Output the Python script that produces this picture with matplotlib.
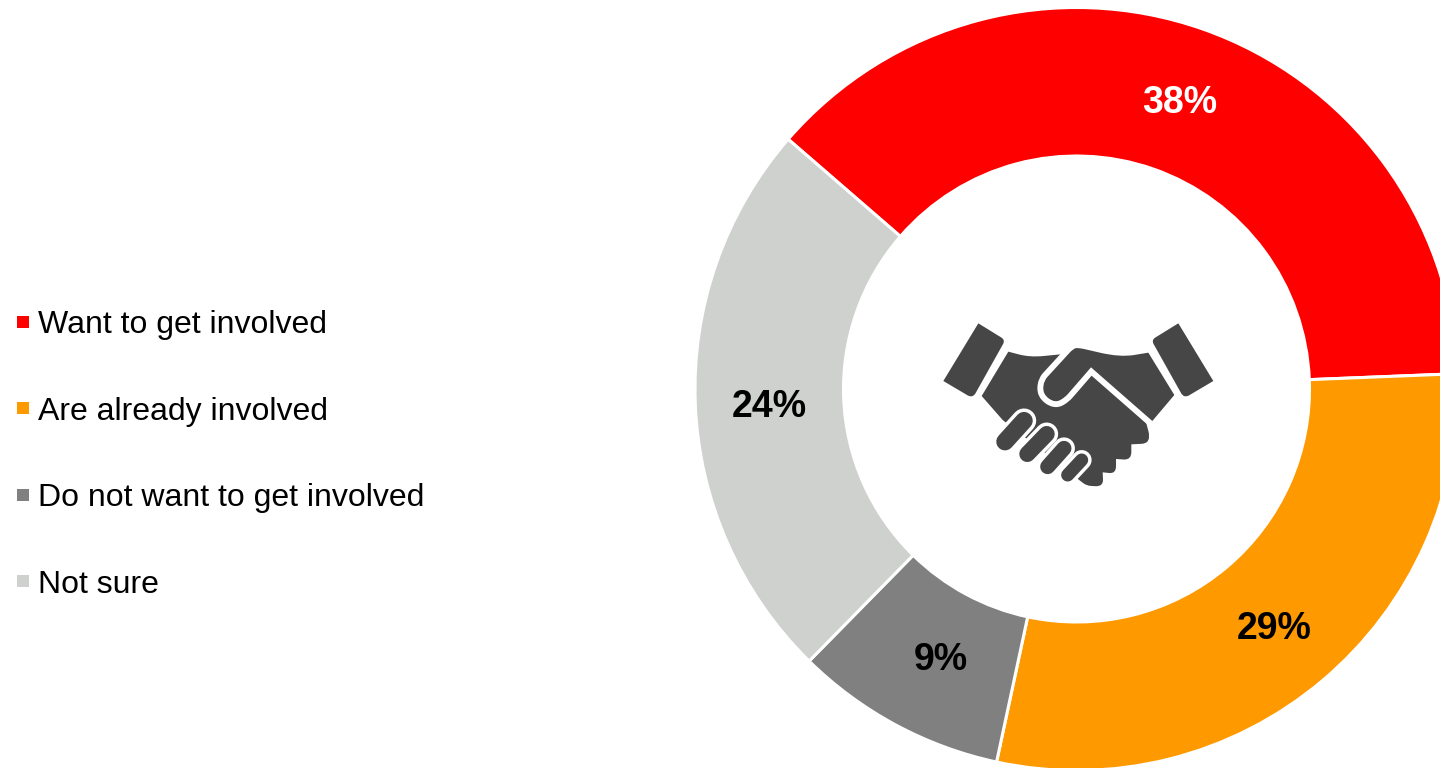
import matplotlib
matplotlib.use('Agg')
import matplotlib.pyplot as plt
from matplotlib.lines import Line2D
from matplotlib.patches import PathPatch
from matplotlib.path import Path

labels = ['Want to get involved', 'Are already involved', 'Do not want to get involved', 'Not sure']
shares = [38, 29, 9, 24]
colors = ['#FF0000', '#FF9900', '#808080', '#CFD1CE']
label_colors = ['white', 'black', 'black', 'black']
# nudges for the percent labels, in pixels
label_nudge = [(2, -4), (0, -5), (10, -1), (0, -6)]

ICON = '#464646'

# handshake outlines, in icon units (3 units = 1 pixel); third value = corner rounding
left_cuff = [(145, 40), (226, 90, 14), (128, 265, 18), (40, 213)]
right_cuff = [(745, 40), (850, 213), (762, 265, 18), (664, 90, 14)]
lower_hand = [(155, 258), (235, 125), (300, 142, 40), (392, 133), (483, 190), (645, 325), (665, 400, 42),
              (604, 403), (604, 450, 30), (558, 447), (558, 491, 26), (518, 487), (520, 530, 24),
              (470, 527, 12), (450, 512), (218, 330)]
upper_hand = [(445, 113, 22), (570, 142, 60), (655, 128), (733, 255), (667, 333), (483, 172), (405, 262, 14),
              (375, 279, 25), (338, 252, 28), (342, 212, 15), (430, 116, 16)]
# finger start, finger end, width in points
fingers = [((225, 395), (282, 332), 12.6), ((292, 432), (350, 372), 11.6),
           ((353, 470), (402, 415), 10.8), ((413, 495), (455, 450), 9.4)]


def icon_xy(x, y):
    return 930 + x / 3, 768 - (310 + y / 3)


def icon_path(points):
    # closed outline, corners with a rounding value become quadratic curves
    verts, codes = [], []
    n = len(points)
    for i, p in enumerate(points):
        x, y = p[0], p[1]
        r = p[2] if len(p) > 2 else 0
        if r == 0:
            verts.append((x, y))
            codes.append(Path.LINETO)
            continue
        for q, step in ((points[i - 1], 0), (points[(i + 1) % n], 1)):
            d = ((q[0] - x) ** 2 + (q[1] - y) ** 2) ** 0.5
            k = min(r / d, 0.5)
            if step == 0:
                verts.append((x + (q[0] - x) * k, y + (q[1] - y) * k))
                codes.append(Path.LINETO)
                verts.append((x, y))
                codes.append(Path.CURVE3)
            else:
                verts.append((x + (q[0] - x) * k, y + (q[1] - y) * k))
                codes.append(Path.CURVE3)
    codes[0] = Path.MOVETO
    verts.append(verts[0])
    codes.append(Path.CLOSEPOLY)
    return Path([icon_xy(*v) for v in verts], codes)


plt.rcParams['font.family'] = ['Liberation Sans', 'DejaVu Sans']

fig = plt.figure(figsize=(14.4, 7.68), dpi=100)
ax = fig.add_axes([0, 0, 1, 1])

wedges, texts, pcts = ax.pie(shares, colors=colors, startangle=139.1, counterclock=False,
                             center=(1076.5, 379), radius=381.5,
                             wedgeprops={'width': 148.5, 'edgecolor': 'white', 'linewidth': 2.2},
                             autopct='%.0f%%', pctdistance=0.805,
                             textprops={'fontsize': 27, 'fontweight': 'bold'})
for t, c, (dx, dy) in zip(pcts, label_colors, label_nudge):
    t.set_color(c)
    x, y = t.get_position()
    t.set_position((x + dx, y + dy))

ax.set_xlim(0, 1440)
ax.set_ylim(0, 768)
ax.set_aspect('equal')

# handshake in the hole of the donut
for shape in [left_cuff, right_cuff, lower_hand]:
    ax.add_patch(PathPatch(icon_path(shape), facecolor=ICON, edgecolor='none'))
ax.add_patch(PathPatch(icon_path(upper_hand), facecolor='white', edgecolor='white', linewidth=8.5, joinstyle='round'))
ax.add_patch(PathPatch(icon_path(upper_hand), facecolor=ICON, edgecolor='none'))
for a, b, w in fingers:
    x0, y0 = icon_xy(*a)
    x1, y1 = icon_xy(*b)
    ax.plot([x0, x1], [y0, y1], color='white', linewidth=w + 5.0, solid_capstyle='round')
for a, b, w in fingers:
    x0, y0 = icon_xy(*a)
    x1, y1 = icon_xy(*b)
    ax.plot([x0, x1], [y0, y1], color=ICON, linewidth=w, solid_capstyle='round')

handles = [Line2D([], [], linestyle='none', marker='s', markersize=8.64, markeredgewidth=0, color=c) for c in colors]
ax.legend(handles, labels, loc='upper left', bbox_to_anchor=(17 / 1440, 1 - 310 / 768), frameon=False,
          numpoints=1, handlelength=0.375, handletextpad=0.28, labelspacing=1.77,
          borderaxespad=0, borderpad=0, prop={'family': 'Liberation Sans', 'size': 23})

fig.savefig('out.png', dpi=100, facecolor='white')
